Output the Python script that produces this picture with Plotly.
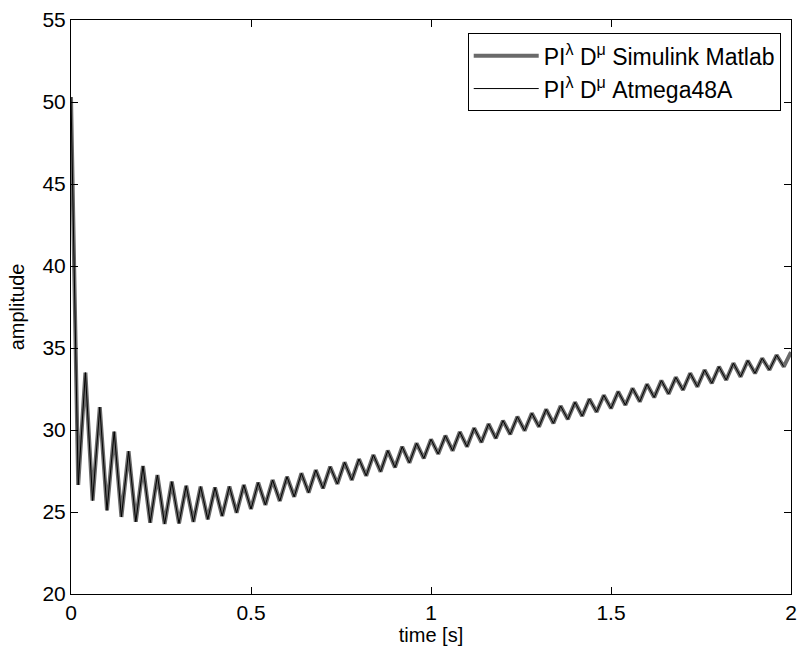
import plotly.graph_objects as go

# sample period of the recorded response [s]
sample_step = 0.02

# PI^λ D^μ Simulink Matlab response (alternating peaks / troughs)
matlab_values = [
    50.3, 26.65, 33.5, 25.7, 31.4, 25.1, 29.9, 24.7, 28.7, 24.4,
    27.8, 24.35, 27.25, 24.27, 26.85, 24.3, 26.6, 24.4, 26.55, 24.55,
    26.5, 24.75, 26.55, 24.95, 26.65, 25.18, 26.79, 25.43, 26.95, 25.67,
    27.15, 25.93, 27.36, 26.18, 27.56, 26.44, 27.76, 26.71, 28.03, 26.95,
    28.23, 27.21, 28.48, 27.46, 28.74, 27.72, 28.98, 28.0, 29.19, 28.27,
    29.43, 28.54, 29.65, 28.74, 29.88, 28.98, 30.12, 29.25, 30.37, 29.49,
    30.57, 29.74, 30.81, 29.96, 31.02, 30.2, 31.26, 30.41, 31.46, 30.65,
    31.69, 30.85, 31.89, 31.10, 32.12, 31.32, 32.34, 31.52, 32.54, 31.73,
    32.79, 31.99, 33.01, 32.2, 33.21, 32.44, 33.46, 32.64, 33.66, 32.85,
    33.86, 33.05, 34.07, 33.25, 34.23, 33.46, 34.37, 33.66, 34.57, 33.86,
    34.75,
]

# PI^λ D^μ Atmega48A response (ends one sample earlier)
atmega_values = [
    50.3, 26.65, 33.5, 25.7, 31.4, 25.1, 29.9, 24.7, 28.7, 24.4,
    27.8, 24.35, 27.25, 24.27, 26.85, 24.3, 26.6, 24.4, 26.55, 24.55,
    26.5, 24.75, 26.55, 24.95, 26.65, 25.18, 26.79, 25.43, 26.95, 25.67,
    27.15, 25.93, 27.36, 26.18, 27.56, 26.44, 27.76, 26.71, 28.03, 26.95,
    28.23, 27.21, 28.48, 27.46, 28.74, 27.72, 28.98, 28.0, 29.19, 28.27,
    29.43, 28.54, 29.65, 28.74, 29.88, 28.98, 30.12, 29.25, 30.37, 29.49,
    30.57, 29.74, 30.81, 29.96, 31.02, 30.2, 31.26, 30.41, 31.46, 30.65,
    31.69, 30.85, 31.89, 31.10, 32.12, 31.32, 32.34, 31.52, 32.54, 31.73,
    32.79, 31.99, 33.01, 32.2, 33.21, 32.44, 33.46, 32.64, 33.66, 32.85,
    33.86, 33.05, 34.07, 33.25, 34.23, 33.46, 34.37, 33.66, 34.57, 33.86,
]

x_ticks = [0, 0.5, 1, 1.5, 2]
x_tick_labels = ["0", "0.5", "1", "1.5", "2"]
y_ticks = [20, 25, 30, 35, 40, 45, 50, 55]
y_tick_labels = ["20", "25", "30", "35", "40", "45", "50", "55"]

series_names = [
    "PI<sup>λ</sup> D<sup>μ</sup> Simulink Matlab",
    "PI<sup>λ</sup> D<sup>μ</sup> Atmega48A",
]

t_matlab = [round(i * sample_step, 4) for i in range(len(matlab_values))]
t_atmega = [round(i * sample_step, 4) for i in range(len(atmega_values))]

FONT = "Liberation Sans, Arial, sans-serif"

fig = go.Figure()
fig.add_trace(go.Scatter(
    x=t_matlab, y=matlab_values, mode="lines", name=series_names[0],
    line=dict(color="#6a6a6a", width=4), legendgroup="a",
))
fig.add_trace(go.Scatter(
    x=t_atmega, y=atmega_values, mode="lines", name=series_names[1],
    line=dict(color="black", width=1), legendgroup="b",
))

axis_common = dict(
    showgrid=False, zeroline=False, showline=True, linecolor="black",
    linewidth=1, mirror="ticks", ticks="inside", ticklen=7,
    tickcolor="black", tickwidth=1,
    tickfont=dict(family=FONT, size=21, color="black"),
)

fig.update_layout(
    width=805, height=653,
    margin=dict(l=71, r=8, t=20, b=59),
    paper_bgcolor="white", plot_bgcolor="white",
    font=dict(family=FONT, size=21, color="black"),
    xaxis=dict(
        range=[0, 2], tickvals=x_ticks, ticktext=x_tick_labels,
        title=dict(text="time [s]", font=dict(family=FONT, size=20), standoff=4),
        **axis_common,
    ),
    yaxis=dict(
        range=[20, 55], tickvals=y_ticks, ticktext=y_tick_labels,
        title=dict(text="amplitude", font=dict(family=FONT, size=20), standoff=12),
        **axis_common,
    ),
    legend=dict(
        x=0.551, y=0.977, xanchor="left", yanchor="top",
        bgcolor="white", bordercolor="black", borderwidth=1,
        font=dict(family=FONT, size=23, color="black"),
        itemwidth=65, tracegroupgap=0,
    ),
    showlegend=True,
)

fig.write_html("out.html")
